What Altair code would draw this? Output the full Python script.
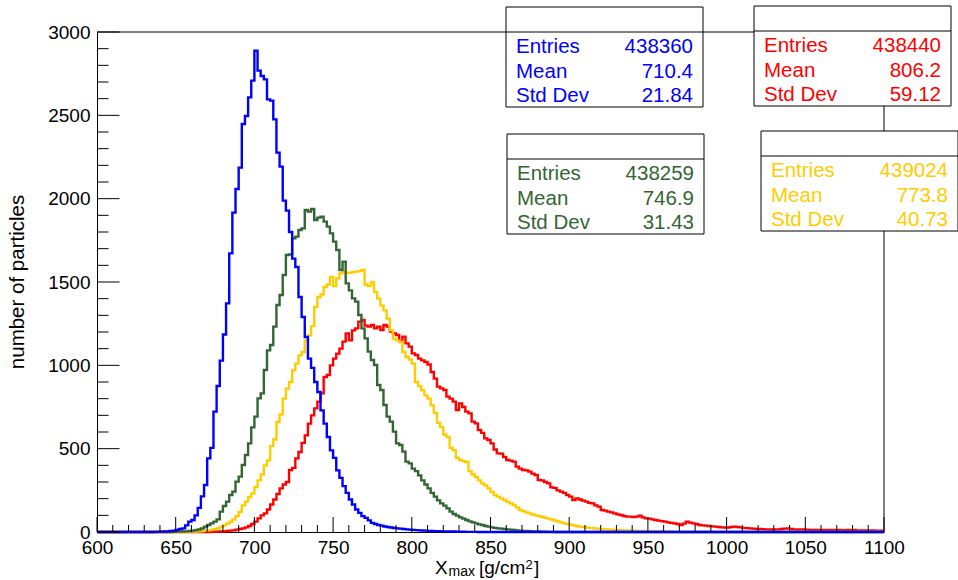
import altair as alt
import pandas as pd

FONT = "Liberation Sans"

# ---------------- histogram structure ----------------
X_MIN, X_MAX = 600, 1100
BIN_WIDTH = 2
N_BINS = 250

# ---------------- bin contents ----------------
# each list starts at bin index *_first (bin i covers [600+2i, 602+2i))
blue_first = 18
blue_counts = [
    1, 1, 2, 3, 4, 6, 8, 12, 18, 22,
    40, 62, 72, 100, 145, 214, 282, 442, 505, 722,
    876, 1028, 1185, 1372, 1672, 1916, 2058, 2186, 2448, 2496,
    2608, 2708, 2888, 2768, 2736, 2716, 2596, 2588, 2476, 2276,
    2192, 1988, 1928, 1800, 1640, 1590, 1410, 1290, 1170, 1040,
    985, 900, 840, 730, 650, 570, 490, 445, 370, 325,
    275, 235, 195, 165, 135, 115, 95, 85, 70, 55,
    48, 42, 38, 33, 30, 27, 24, 22, 20, 18,
    16, 14, 13, 11, 10, 9, 8, 7, 6, 5,
    5, 4, 4, 3, 3, 3, 2, 2, 2, 1,
    1, 1, 1,
]

green_first = 24
green_counts = [
    1, 2, 2, 3,
    4, 6, 8, 11, 15, 22, 32, 42, 52, 62,
    76, 122, 156, 182, 222, 242, 302, 332, 402, 462,
    532, 628, 692, 802, 832, 972, 1090, 1122, 1232, 1362,
    1422, 1542, 1662, 1666, 1762, 1772, 1812, 1822, 1932, 1922,
    1938, 1872, 1886, 1892, 1862, 1832, 1792, 1742, 1692, 1572,
    1622, 1492, 1450, 1402, 1382, 1302, 1222, 1162, 1082, 1032,
    1002, 882, 852, 762, 692, 662, 602, 532, 522, 482,
    422, 412, 380, 365, 340, 310, 285, 262, 235, 212,
    190, 172, 158, 142, 122, 108, 98, 88, 80, 72,
    64, 58, 52, 46, 42, 36, 32, 28, 25, 22,
    20, 18, 16, 14, 12, 10, 8, 7, 6, 5,
    4, 3, 3, 2, 2, 1, 1,
]

yellow_first = 28
yellow_counts = [
    1, 2, 2, 3, 4, 6, 8, 10, 13, 17,
    22, 30, 40, 50, 60, 75, 95, 120, 160, 182,
    210, 232, 270, 310, 345, 400, 430, 515, 555, 660,
    705, 800, 860, 900, 970, 1010, 1060, 1080, 1150, 1180,
    1235, 1350, 1410, 1425, 1470, 1485, 1530, 1475, 1522, 1552,
    1562, 1556, 1555, 1560, 1562, 1565, 1572, 1485, 1475, 1500,
    1440, 1400, 1360, 1330, 1280, 1210, 1160, 1150, 1140, 1080,
    1050, 1035, 1010, 900, 875, 850, 820, 800, 760, 715,
    655, 630, 585, 570, 505, 490, 445, 432, 425, 420,
    365, 345, 330, 310, 292, 280, 262, 240, 222, 212,
    202, 192, 182, 172, 162, 148, 132, 125, 118, 112,
    105, 100, 95, 90, 85, 80, 75, 70, 64, 58,
    52, 48, 44, 40, 36, 32, 30, 27, 25, 23,
    21, 19, 17, 16, 15, 14, 13, 12, 11, 10,
    9, 8, 8, 7, 6, 6, 5, 5, 4, 4,
    3, 3, 2, 2, 2, 1, 1, 1,
]

red_first = 36
red_counts = [
    1, 1, 2, 3, 4, 6, 8, 10, 14, 18,
    22, 28, 36, 48, 62, 82, 100, 112, 135, 165,
    195, 228, 262, 285, 300, 372, 385, 442, 480, 535,
    580, 650, 700, 742, 782, 832, 930, 942, 1000, 1040,
    1070, 1100, 1142, 1192, 1150, 1210, 1222, 1262, 1272, 1238,
    1232, 1242, 1222, 1232, 1212, 1242, 1232, 1202, 1192, 1182,
    1142, 1172, 1132, 1112, 1072, 1062, 1040, 1030, 1020, 1005,
    960, 920, 872, 862, 852, 812, 800, 782, 732, 772,
    750, 722, 712, 662, 652, 612, 595, 562, 552, 532,
    495, 472, 470, 450, 432, 428, 422, 392, 380, 372,
    370, 362, 350, 342, 312, 310, 300, 292, 268, 265,
    250, 242, 235, 222, 212, 192, 202, 195, 188, 182,
    175, 172, 160, 152, 132, 128, 122, 118, 112, 106,
    102, 96, 92, 92, 90, 92, 98, 88, 82, 80,
    76, 72, 68, 65, 62, 58, 55, 52, 48, 42,
    50, 62, 56, 52, 48, 42, 40, 38, 36, 34,
    32, 30, 28, 27, 26, 30, 32, 30, 28, 25,
    23, 22, 20, 19, 18, 17, 16, 16, 15, 16,
    16, 18, 20, 22, 18, 16, 15, 16, 16, 14,
    13, 13, 12, 12, 12, 11, 12, 11, 12, 12,
    11, 10, 12, 11, 12, 10, 9, 10, 9, 8,
    9, 8, 8, 8,
]

# ---------------- statistics boxes ----------------
series_keys = ["blue", "green", "yellow", "red"]
series_colors = ["#0000ff", "#336633", "#ffcc00", "#ff0000"]
stat_labels = ["Entries", "Mean", "Std Dev"]
entries = ["438360", "438259", "439024", "438440"]
means = ["710.4", "746.9", "773.8", "806.2"]
std_devs = ["21.84", "31.43", "40.73", "59.12"]

# tick values
x_major = list(range(600, 1101, 50))
x_minor = [v for v in range(600, 1101, 10) if v % 50 != 0]
y_major = list(range(0, 3001, 500))
y_minor = [v for v in range(0, 3001, 100) if v % 500 != 0]

# ---------------- layout (pixels, style only) ----------------
W, H = 787, 500
box_layout = {  # left, top (relative to plot origin)
    "blue": (409, -25),
    "green": (410, 102),
    "yellow": (664, 99),
    "red": (657, -26),
}
BOX_W, BOX_H, BOX_HEAD = 197, 100, 25


def full(first, vals):
    arr = [0] * first + list(vals)
    arr += [0] * (N_BINS - len(arr))
    return arr[:N_BINS]


edges = [X_MIN + BIN_WIDTH * i for i in range(N_BINS + 1)]
series_counts = {
    "blue": full(blue_first, blue_counts),
    "green": full(green_first, green_counts),
    "yellow": full(yellow_first, yellow_counts),
    "red": full(red_first, red_counts),
}

xs = alt.Scale(domain=[X_MIN, X_MAX], nice=False, zero=False)
ys = alt.Scale(domain=[0, 3000], nice=False, zero=True)
xaxis = alt.Axis(values=x_major, title="", ticks=False, tickSize=0, grid=False,
                 domainColor="black", domainWidth=1, labelFontSize=19, labelFont=FONT,
                 labelColor="black", labelPadding=6, labelFlush=False,
                 labelOverlap=False, format="d")
yaxis = alt.Axis(values=y_major, title="", ticks=False, tickSize=0, grid=False,
                 domainColor="black", domainWidth=1, labelFontSize=19, labelFont=FONT,
                 labelColor="black", labelPadding=7, labelFlush=False,
                 labelOverlap=False, format="d")

one = pd.DataFrame({"d": [0]})
layers = []

# frame (top and right)
layers.append(alt.Chart(one).mark_rule(color="black", strokeWidth=1).encode(
    x=alt.value(0), x2=alt.value(W), y=alt.value(0)))
layers.append(alt.Chart(one).mark_rule(color="black", strokeWidth=1).encode(
    x=alt.value(W), y=alt.value(0), y2=alt.value(H)))

# histograms (drawn red, yellow, green, blue)
color_of = dict(zip(series_keys, series_colors))
for key in ["red", "yellow", "green", "blue"]:
    cnt = series_counts[key]
    df = pd.DataFrame({"x": edges, "count": cnt + [cnt[-1]]})
    layers.append(alt.Chart(df).mark_line(
        interpolate="step-after", color=color_of[key], strokeWidth=2.4,
        strokeJoin="miter", strokeCap="butt", clip=False).encode(
        x=alt.X("x:Q", scale=xs, axis=xaxis),
        y=alt.Y("count:Q", scale=ys, axis=yaxis)))

# inward ticks
layers.append(alt.Chart(pd.DataFrame({"v": x_minor})).mark_rule(color="black", strokeWidth=1).encode(
    x=alt.X("v:Q", scale=xs, axis=xaxis), y=alt.value(H), y2=alt.value(H - 7)))
layers.append(alt.Chart(pd.DataFrame({"v": x_major})).mark_rule(color="black", strokeWidth=1).encode(
    x=alt.X("v:Q", scale=xs, axis=xaxis), y=alt.value(H), y2=alt.value(H - 15)))
layers.append(alt.Chart(pd.DataFrame({"v": y_minor})).mark_rule(color="black", strokeWidth=1).encode(
    y=alt.Y("v:Q", scale=ys, axis=yaxis), x=alt.value(0), x2=alt.value(11.5)))
layers.append(alt.Chart(pd.DataFrame({"v": y_major})).mark_rule(color="black", strokeWidth=1).encode(
    y=alt.Y("v:Q", scale=ys, axis=yaxis), x=alt.value(0), x2=alt.value(22.5)))

# statistics boxes
for i, key in enumerate(series_keys):
    left, top = box_layout[key]
    col = series_colors[i]
    layers.append(alt.Chart(one).mark_rect(fill="white", stroke="black", strokeWidth=1).encode(
        x=alt.value(left), x2=alt.value(left + BOX_W), y=alt.value(top), y2=alt.value(top + BOX_H)))
    layers.append(alt.Chart(one).mark_rule(color="black", strokeWidth=1).encode(
        x=alt.value(left), x2=alt.value(left + BOX_W), y=alt.value(top + BOX_HEAD)))
    layers.append(alt.Chart(one).mark_text(
        align="left", baseline="alphabetic", font=FONT, fontSize=20.5, lineHeight=24.5, color=col).encode(
        x=alt.value(left + 10), y=alt.value(top + 46), text=alt.value(stat_labels)))
    layers.append(alt.Chart(one).mark_text(
        align="right", baseline="alphabetic", font=FONT, fontSize=20.5, lineHeight=24.5, color=col).encode(
        x=alt.value(left + BOX_W - 10), y=alt.value(top + 46),
        text=alt.value([entries[i], means[i], std_devs[i]])))

# axis titles
def txt(s, x, y, size, **kw):
    return alt.Chart(one).mark_text(font=FONT, fontSize=size, color="black",
                                    baseline="alphabetic", align="left", **kw).encode(
        x=alt.value(x), y=alt.value(y), text=alt.value(s))

layers.append(txt("X", 338, 541.5, 19))
layers.append(txt("max", 351.5, 544, 14))
layers.append(txt("[g/cm", 382, 541.5, 19))
layers.append(txt("2", 428.5, 536.5, 13))
layers.append(txt("]", 437, 541.5, 19))
layers.append(alt.Chart(one).mark_text(font=FONT, fontSize=20.5, color="black", angle=270,
                                       align="center", baseline="middle").encode(
    x=alt.value(-79), y=alt.value(250), text=alt.value("number of particles")))

chart = alt.layer(*layers).properties(
    width=W, height=H,
    padding={"left": 97, "top": 32, "right": 74, "bottom": 48},
    autosize=alt.AutoSizeParams(type="none"),
    background="white",
).configure_view(stroke="transparent")

chart.save("out.html", embed_options={"renderer": "svg", "actions": False})
